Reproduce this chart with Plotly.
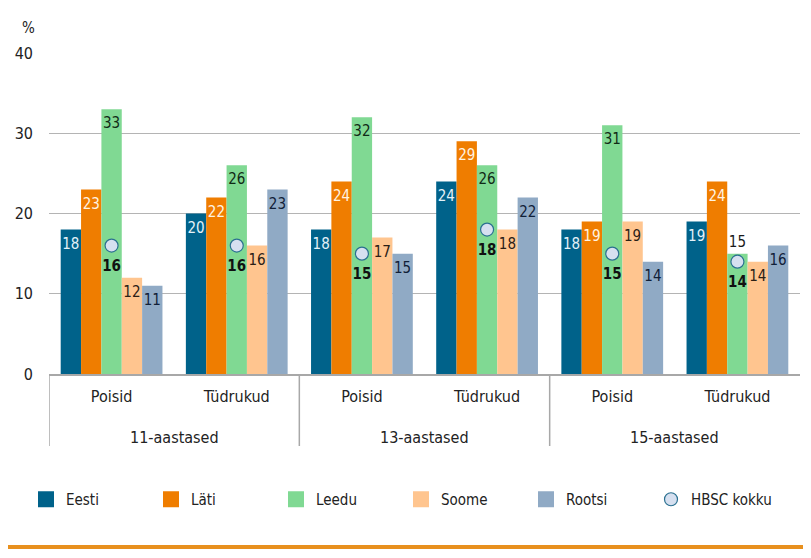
import plotly.graph_objects as go

groups = ["11-aastased", "11-aastased", "13-aastased", "13-aastased", "15-aastased", "15-aastased"]
subgroups = ["Poisid", "Tüdrukud", "Poisid", "Tüdrukud", "Poisid", "Tüdrukud"]

eesti = [18, 20, 18, 24, 18, 19]
lati = [23, 22, 24, 29, 19, 24]
leedu = [33, 26, 32, 26, 31, 15]
soome = [12, 16, 17, 18, 19, 14]
rootsi = [11, 23, 15, 22, 14, 16]
hbsc = [16, 16, 15, 18, 15, 14]

FONT = "DejaVu Sans Condensed, DejaVu Sans, sans-serif"

series = [
    ("Eesti", eesti, "#00628A", "#E4F1F8"),
    ("Läti", lati, "#EF7D00", "#FFF3E2"),
    ("Leedu", leedu, "#80D993", "#102A16"),
    ("Soome", soome, "#FFC58F", "#2A2016"),
    ("Rootsi", rootsi, "#90AAC5", "#102038"),
]
outside_labels = {("Leedu", 5)}

# screen geometry (the page is offset by the 8px body margin)
OFF = 8
PL, PR, PT, PB = 49, 800, 53, 374          # plot rect in screen px
PW, PH = PR - PL, PB - PT


def px(sx):
    return (sx - PL) / PW


def py(sy):
    return (PB - sy) / PH


BARGAP = 0.187
n = len(series)
idx = list(range(len(subgroups)))
bw = (1 - BARGAP) / n

fig = go.Figure()
for k, (name, vals, color, tcolor) in enumerate(series):
    fig.add_trace(go.Bar(
        x=idx, y=vals, name=name, marker=dict(color=color, line=dict(width=0)),
        showlegend=False, hoverinfo="skip",
    ))

# value labels inside top of bars
for k, (name, vals, color, tcolor) in enumerate(series):
    xs = [i + (k - (n - 1) / 2) * bw for i in idx]
    pos, sizes, cols = [], [], []
    for i in idx:
        if (name, i) in outside_labels:
            pos.append("top center"); sizes.append(3); cols.append("#1A1A1A")
        else:
            pos.append("bottom center"); sizes.append(11); cols.append(tcolor)
    fig.add_trace(go.Scatter(
        x=xs, y=vals, mode="markers+text", text=[str(v) for v in vals],
        textposition=pos,
        marker=dict(size=sizes, color="rgba(0,0,0,0)", opacity=0, line=dict(width=0)),
        textfont=dict(family=FONT, size=15, color=cols),
        showlegend=False, hoverinfo="skip", cliponaxis=False,
    ))

# legend proxies (square swatches)
for name, vals, color, tcolor in series:
    fig.add_trace(go.Scatter(
        x=[None], y=[None], mode="markers", name=name,
        marker=dict(symbol="square", size=16, color=color, line=dict(width=0)),
        hoverinfo="skip",
    ))

fig.add_trace(go.Scatter(
    x=idx, y=hbsc, name="HBSC kokku", mode="markers",
    marker=dict(size=13, color="#D6E0F0", line=dict(color="#2A7090", width=1.2)),
    cliponaxis=False, hoverinfo="skip",
))
fig.add_trace(go.Scatter(
    x=idx, y=hbsc, mode="markers+text", text=[str(v) for v in hbsc],
    textposition="bottom center",
    marker=dict(size=21, color="rgba(0,0,0,0)", opacity=0, line=dict(width=0)),
    textfont=dict(family=FONT, size=15, color="#111111", weight="bold"),
    showlegend=False, cliponaxis=False, hoverinfo="skip",
))

# group labels and dividers
unique_groups = []
for g in groups:
    if g not in unique_groups:
        unique_groups.append(g)
annotations = []
shapes = []
for g in unique_groups:
    members = [i for i, gg in enumerate(groups) if gg == g]
    annotations.append(dict(
        text=g, xref="x", yref="paper", x=sum(members) / len(members), y=py(437.5),
        showarrow=False, xanchor="center", yanchor="middle",
        font=dict(family=FONT, size=16, color="#222222"),
    ))
    shapes.append(dict(
        type="line", xref="x", yref="paper", x0=members[0] - 0.5, x1=members[0] - 0.5,
        y0=0, y1=py(446), line=dict(color="#A8A8A8", width=1.5),
    ))

annotations.append(dict(
    text="%", xref="paper", yref="paper", x=px(28.5), y=py(28),
    showarrow=False, font=dict(family=FONT, size=15, color="#222222"),
    xanchor="center", yanchor="middle",
))
shapes.append(dict(
    type="line", xref="paper", yref="paper", x0=px(3), x1=px(805),
    y0=py(547), y1=py(547), line=dict(color="#E8901E", width=4),
))

fig.update_layout(
    width=811 - OFF, height=558 - OFF,
    margin=dict(l=PL - OFF, r=811 - PR, t=PT - OFF, b=558 - PB, autoexpand=False),
    paper_bgcolor="white", plot_bgcolor="white",
    barmode="group", bargap=BARGAP, bargroupgap=0,
    font=dict(family=FONT, size=15, color="#222222"),
    showlegend=True,
    legend=dict(
        orientation="h", x=px(26), xanchor="left",
        y=py(499.5), yanchor="middle",
        font=dict(family=FONT, size=15, color="#222222"),
        entrywidth=80, entrywidthmode="pixels", traceorder="normal",
        itemclick=False, itemdoubleclick=False,
    ),
    xaxis=dict(
        range=[-0.5, len(idx) - 0.5], tickvals=idx, ticktext=subgroups,
        showline=True, linecolor="#A8A8A8", linewidth=2, automargin=False,
        tickfont=dict(family=FONT, size=16, color="#222222"),
        showgrid=False, zeroline=False, ticks="", ticklabelstandoff=7,
    ),
    yaxis=dict(
        range=[0, 40], dtick=10, showgrid=True, gridcolor="#B4B4B4", gridwidth=1.2,
        zeroline=False, showline=False, ticks="", ticklabelstandoff=15, automargin=False,
        tickfont=dict(family=FONT, size=16, color="#222222"),
    ),
    annotations=annotations,
    shapes=shapes,
)

fig.write_html("out.html")
